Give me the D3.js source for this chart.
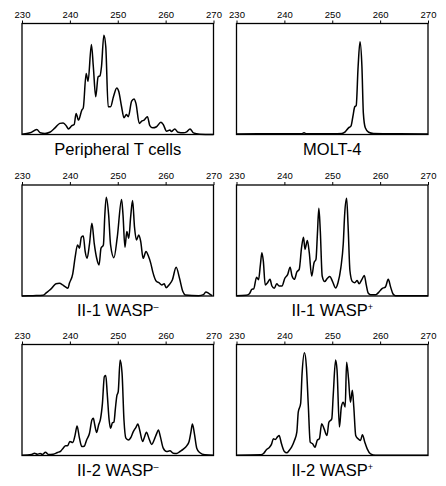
<!DOCTYPE html>
<html>
<head>
<meta charset="utf-8">
<script src="https://cdn.jsdelivr.net/npm/d3@7/dist/d3.min.js"></script>
<style>
  html, body { margin: 0; padding: 0; background: #fff; }
  svg { display: block; }
</style>
</head>
<body>
<svg id="chart" width="446" height="486"></svg>
<script>
// ---- DATA ----
const tickValues = [230, 240, 250, 260, 270];
const sizeDomain = [230, 270];

const panelNames = ["Peripheral T cells", "MOLT-4", "II-1 WASP", "II-1 WASP", "II-2 WASP", "II-2 WASP"];
const panelSuperscripts = ["", "", "\u2013", "+", "\u2013", "+"];

const sizesPeripheral = [230.0,231.7,233.1,233.8,234.8,235.8,236.9,237.9,238.6,239.3,239.7,240.4,240.9,241.3,241.8,242.5,242.8,243.4,243.8,244.5,244.9,245.4,245.9,246.3,246.6,247.1,247.5,248.0,248.5,249.1,249.8,250.2,250.8,251.3,251.8,252.2,252.9,253.4,253.8,254.5,255.0,255.5,256.2,256.7,257.3,258.1,259.0,259.5,260.2,260.9,261.2,261.9,262.6,263.7,264.4,265.1,265.8,267.1,270.0];
const heightsPeripheral = [0.3,1.5,4.5,1.5,0.9,2,6,10,10.4,7.5,5,8,9,19,13,22,24,55,48,81,61,34,52,53,61,89.5,79,25,25,34,42,39,25,15,18,16,30,32,28,10,12,13,16,8,6,7,11,9,3,4,2.7,5,2,1.5,2.4,5,1.5,0.3,0];

const sizesMolt = [230.0,238.0,243.6,244.1,244.6,250.0,252.0,252.7,253.4,253.9,254.3,254.7,255.0,255.4,255.8,256.2,256.5,256.9,257.6,258.6,264.0,270.0];
const heightsMolt = [0.5,0.6,0.6,1.5,0.6,0.6,0.9,2.4,6,7.5,16,25,26,61,83.6,61,19,6,2,0.9,0.6,0.5];

const sizesII1Neg = [230.0,232.3,234.4,235.1,235.8,236.4,237.1,237.8,238.5,239.0,239.6,239.9,240.6,241.1,241.6,242.0,242.4,242.8,243.2,243.6,244.1,244.6,245.1,245.6,246.1,246.5,247.0,247.3,247.6,248.1,248.5,249.2,249.9,250.8,251.1,251.5,251.9,252.3,252.7,253.1,253.5,253.9,254.4,254.8,255.3,255.9,256.4,256.9,257.3,258.1,258.6,259.2,259.7,260.1,260.7,261.4,262.2,262.9,263.6,264.1,266.9,267.9,268.4,269.0,269.7];
const heightsII1Neg = [0,0.3,0.6,3,5.4,8,11,11.4,10,8.4,7,11.4,20,35,46,43,53,54,40,34,47,65.5,47,34,28,43,46,73,89,73,46,34.5,53,87,73,44,58,52,71.5,86,62,50.5,55,49,34,40,36,29.4,22,13,12,10,11,7.5,10,14.4,26,16,4,1,0.3,1.2,3.6,2.4,0.3];

const sizesII1Pos = [230.0,232.0,232.7,233.2,233.6,234.2,234.6,235.0,235.3,235.6,236.0,236.5,237.0,237.4,237.9,238.4,238.9,239.5,240.1,240.7,241.2,241.6,242.1,242.6,243.1,243.6,244.0,244.3,244.8,245.2,245.7,246.2,246.6,246.9,247.2,247.5,247.9,248.4,249.0,249.5,250.0,250.7,251.2,251.8,252.3,252.6,253.0,253.3,253.7,254.2,254.7,255.2,255.6,256.2,256.7,257.1,257.5,258.0,259.1,259.7,260.4,261.1,261.7,262.2,262.7,263.2,270.0];
const heightsII1Pos = [0.3,0.6,2,6,6.5,17,14.6,28.6,39,31.6,10,12,15,9,7,11,9,9,16,19.5,26,18,15,21.6,24,44,53,42,50,39,18,30,33,56,79,59,18,13,16,17.6,13.7,7.3,12,25.5,47,74,88,64,22.5,13,12,14,11,15,18.5,10,2.7,1.2,1.2,3.3,6.7,8,15,8,1.8,0.3,0.3];

const sizesII2Neg = [230.0,232.0,232.6,233.2,233.8,234.3,234.9,235.5,236.5,237.4,238.1,238.6,239.1,239.5,240.0,240.6,241.1,241.5,242.0,242.5,243.0,243.5,244.1,244.6,244.9,245.2,245.6,246.0,246.4,246.8,247.2,247.5,247.8,248.2,248.5,248.9,249.2,249.5,249.8,250.1,250.5,250.9,251.3,251.7,252.2,252.7,253.2,253.8,254.2,254.6,255.2,255.5,256.0,256.5,257.1,257.6,258.1,258.5,258.9,259.5,260.2,260.9,261.6,262.3,263.0,263.7,264.4,264.9,265.3,265.6,266.0,266.5,267.1,268.2,270.0];
const heightsII2Neg = [0.3,0.9,2,1.2,1.8,0.9,3,0.9,1.2,2.7,4,6.6,8.7,8.7,12.6,11.7,18.6,26.6,15.6,8,8.4,14,20,32,33.5,27.5,20.7,27.5,33,47,71,72,56,32,24.5,29.6,30,42,53.6,57.5,86,74,32,15.6,14,16,21,25.4,28.4,22.5,12.6,15.6,21,15.6,10,14,19.5,23,17,6.6,3.6,4.2,2,1.8,3.6,5.7,8.7,12.6,21.6,28.4,20,6.6,2.7,0.6,0.3];

const sizesII2Pos = [230.0,235.1,235.7,236.2,236.9,237.3,237.7,238.1,238.6,238.9,239.4,240.0,240.5,241.0,241.5,242.1,242.6,242.9,243.4,243.7,244.2,244.6,245.0,245.4,245.9,246.4,246.9,247.3,247.8,248.3,248.9,249.3,249.9,250.2,250.7,251.0,251.5,251.9,252.3,252.7,253.0,253.4,253.8,254.2,254.5,254.9,255.4,255.9,256.3,256.8,257.3,258.0,259.0,270.0];
const heightsII2Pos = [0.3,0.6,2,5,7.5,10,15,14.5,17,18,10.5,3.6,2.4,4.5,7.5,13.5,21,39,47,74,92.5,80,45,12,10.5,7.5,14,15,28.6,24,18,30,33,54,86,77,25.6,43.7,48,43.7,84,69,48,58.7,43.7,18,15,13.5,18.7,12,6,1.5,0.3,0.3];

const panelSizes = [sizesPeripheral, sizesMolt, sizesII1Neg, sizesII1Pos, sizesII2Neg, sizesII2Pos];
const panelHeights = [heightsPeripheral, heightsMolt, heightsII1Neg, heightsII1Pos, heightsII2Neg, heightsII2Pos];

// ---- LAYOUT ----
const colX = [22, 236.5];
const rowY = [23.5, 185, 344.5];
const panelW = 191.5;
const panelH = 111;
const fontFamily = "'Liberation Sans', Arial, Helvetica, sans-serif";

const svg = d3.select("#chart");

panelNames.forEach((name, i) => {
  const col = i % 2, row = Math.floor(i / 2);
  const g = svg.append("g").attr("transform", `translate(${colX[col]},${rowY[row]})`);

  const x = d3.scaleLinear().domain(sizeDomain).range([0, panelW]);
  const y = d3.scaleLinear().domain([0, 100]).range([panelH, 0]);

  const data = panelSizes[i].map((s, k) => ({ s, h: panelHeights[i][k] }));

  const line = d3.line()
    .x(d => x(d.s))
    .y(d => y(d.h))
    .curve(d3.curveMonotoneX);

  g.append("path")
    .datum(data)
    .attr("d", line)
    .attr("fill", "none")
    .attr("stroke", "#000")
    .attr("stroke-width", 1.5)
    .attr("stroke-linejoin", "round");

  g.append("rect")
    .attr("x", 0).attr("y", 0)
    .attr("width", panelW).attr("height", panelH)
    .attr("fill", "none")
    .attr("stroke", "#000")
    .attr("stroke-width", 1.3);

  const axis = d3.axisTop(x).tickValues(tickValues).tickSizeInner(3).tickSizeOuter(0).tickPadding(3)
    .tickFormat(d3.format("d"));
  const ag = g.append("g").call(axis);
  ag.select(".domain").remove();
  ag.selectAll("line").attr("stroke", "#000").attr("stroke-width", 1);
  ag.selectAll("text").attr("font-family", fontFamily).attr("font-size", "9.5px").attr("fill", "#000");

  const t = g.append("text")
    .attr("x", panelW / 2)
    .attr("y", panelH + 20)
    .attr("text-anchor", "middle")
    .attr("font-family", fontFamily)
    .attr("font-size", "16.5px")
    .attr("fill", "#000");
  t.append("tspan").text(name);
  if (panelSuperscripts[i]) {
    t.append("tspan")
      .attr("dy", "-6")
      .attr("font-size", "9px")
      .text(panelSuperscripts[i]);
  }
});
</script>
</body>
</html>
